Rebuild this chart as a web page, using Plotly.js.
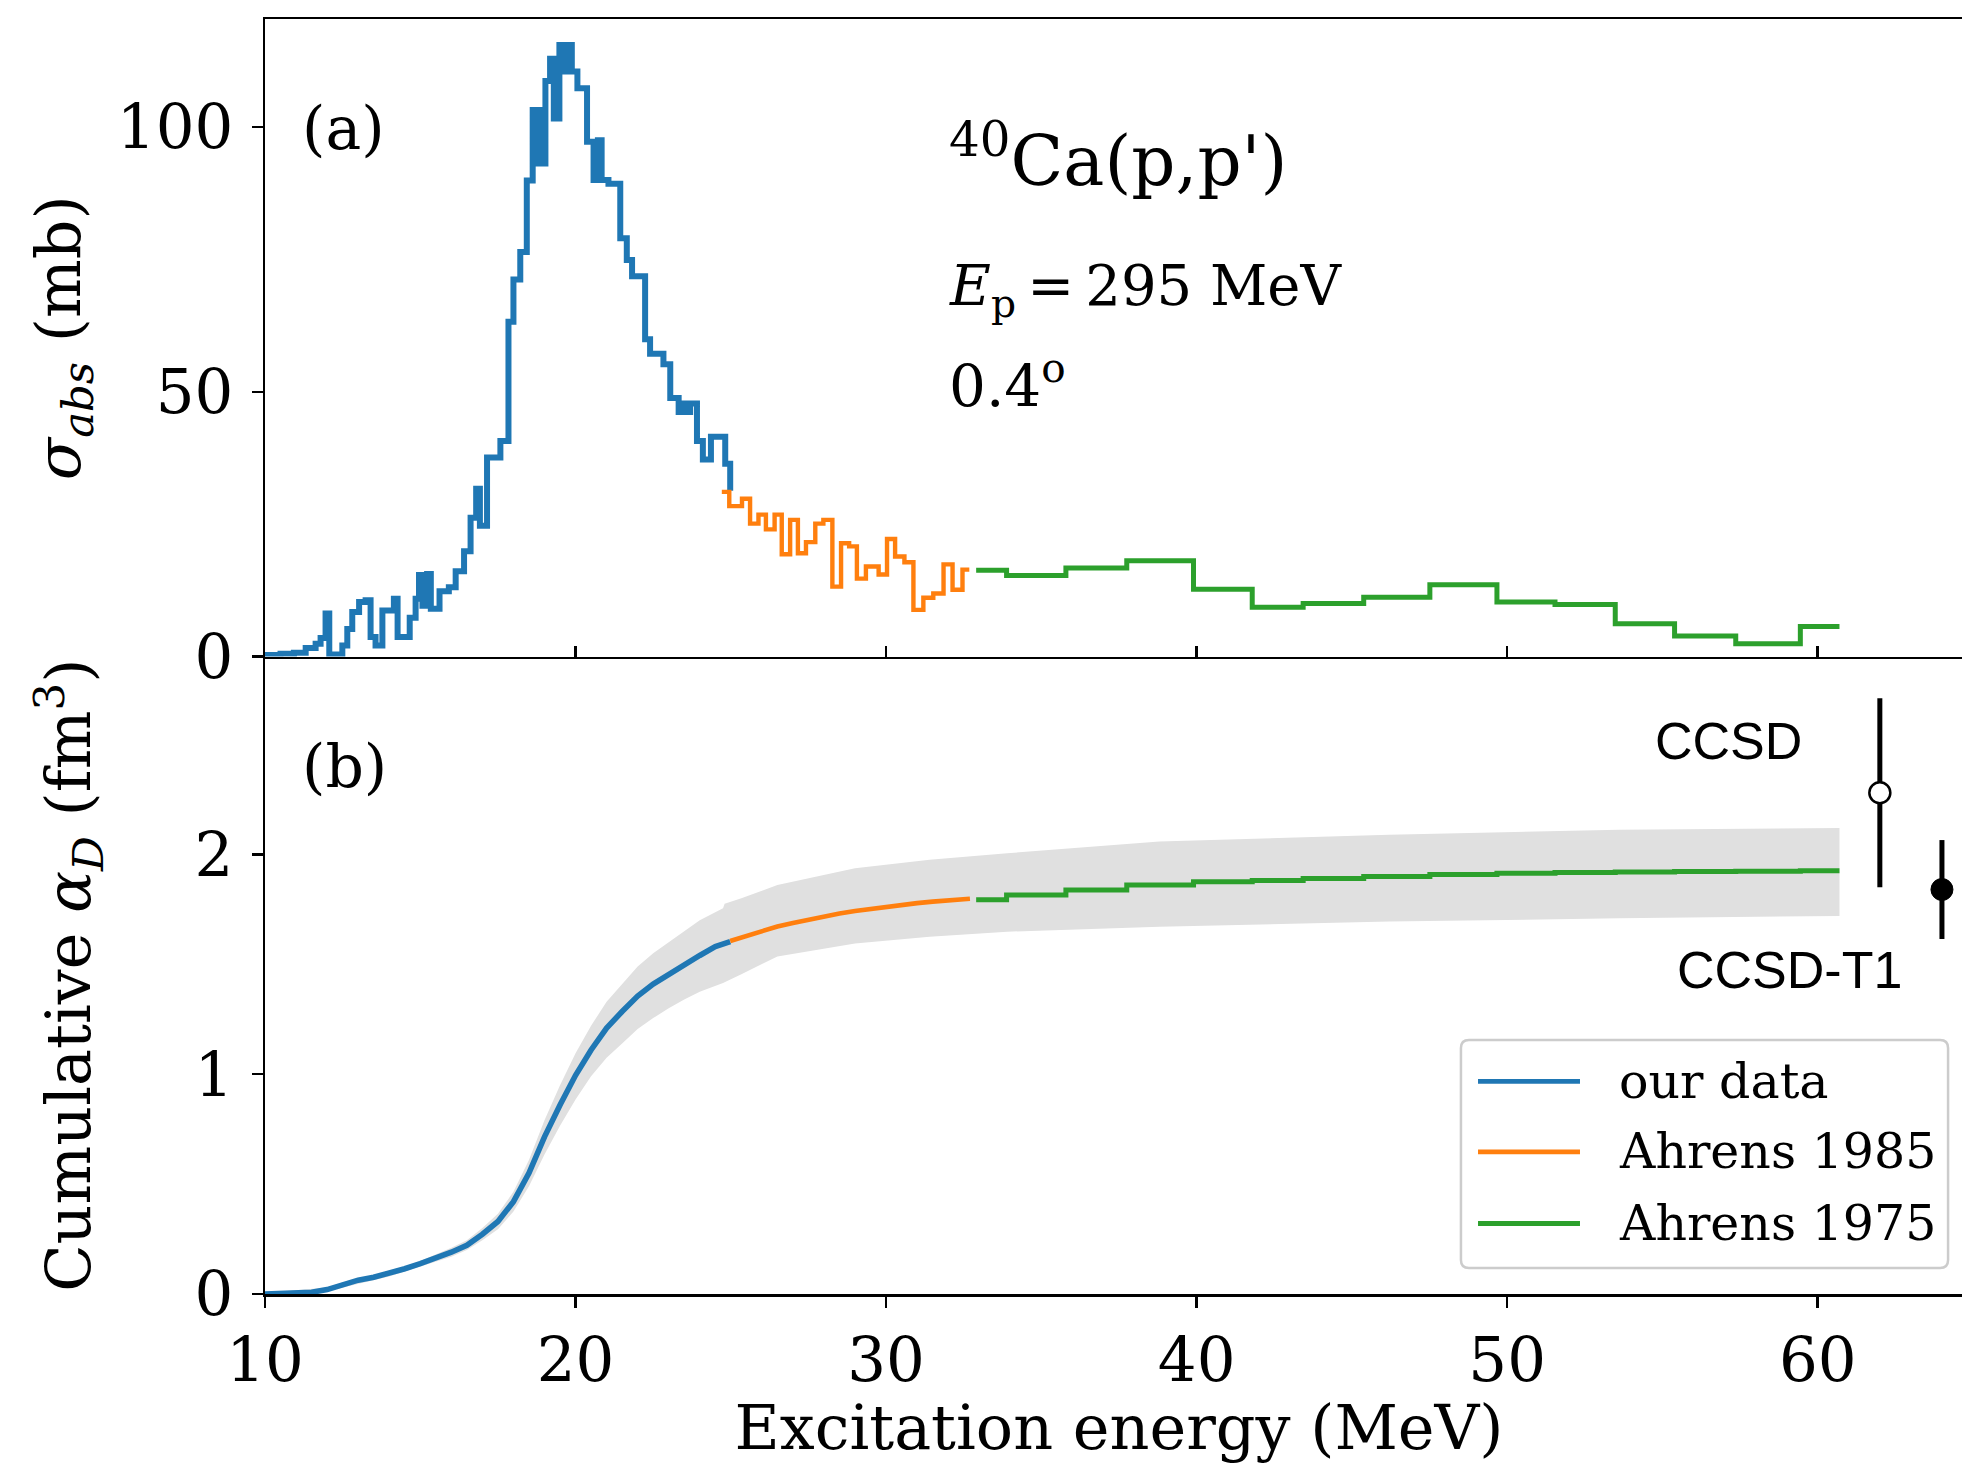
<!DOCTYPE html>
<html><head><meta charset="utf-8">
<script src="https://cdn.plot.ly/plotly-3.0.1.min.js"></script>
<style>html,body{margin:0;padding:0;overflow:hidden;background:#fff}</style>
</head><body><div id="chart" style="width:1980px;height:1464px"></div>
<script>
// ---- panel (a): absorption cross section (mb), step histograms: bin edges + bin values
const ourEdges = [10.00,10.50,10.93,11.31,11.63,11.79,11.95,12.07,12.49,12.65,12.81,13.03,13.24,13.40,13.56,13.78,14.15,14.27,14.66,14.85,14.96,15.07,15.22,15.34,15.62,15.92,16.14,16.41,16.62,16.80,16.92,17.15,17.58,17.84,18.00,18.22,18.43,18.62,18.74,18.86,18.96,19.03,19.18,19.30,19.48,19.62,19.72,19.88,20.06,20.37,20.58,20.72,20.84,21.06,21.44,21.65,21.82,22.24,22.40,22.83,23.05,23.32,23.45,23.55,23.69,23.91,24.10,24.36,24.82,24.98,24.99];
const ourSigma = [0.3,0.5,0.7,1.6,2.4,3.5,8.1,0.4,2.1,5.2,8.4,10.3,10.6,3.7,2.1,8.7,10.9,3.7,7.3,10.9,15.4,9.6,15.6,9.0,12.3,13.1,16.1,19.9,26.2,31.7,24.7,37.6,40.7,63.2,71.2,76.4,89.9,103.2,93.1,103.2,93.1,108.7,112.9,101.6,115.5,110.5,115.5,110.5,107.3,97.2,90.0,97.5,90.0,89.3,79.0,74.9,71.8,59.9,57.2,55.2,48.8,46.2,47.8,46.2,47.8,40.7,37.2,41.5,36.4,31.3];

const a85Edges = [24.71,24.95,25.36,25.62,25.89,26.13,26.41,26.64,26.91,27.16,27.42,27.72,27.98,28.27,28.55,28.81,29.06,29.35,29.76,30.03,30.29,30.59,30.88,31.20,31.52,31.85,32.14,32.46,32.68];
const a85Sigma = [31.1,28.4,29.8,25.1,26.8,24.0,26.8,19.3,25.8,19.5,21.6,25.1,25.8,13.2,21.4,20.8,14.7,17.0,15.5,22.2,18.9,17.8,8.8,11.1,11.9,17.4,12.6,16.4];

const a75Edges = [32.90,33.88,35.79,37.75,39.90,41.79,43.43,45.38,47.51,49.67,51.54,53.48,55.39,57.36,59.44,60.70];
const a75Sigma = [16.3,15.3,16.7,18.1,12.7,9.3,10.0,11.2,13.55,10.3,9.8,6.2,3.85,2.4,5.67];

// ---- panel (b): cumulative alpha_D (fm^3)
const ourCumE = [10,10.5,11,11.5,12,12.5,13,13.5,14,14.5,15,15.5,16,16.5,17,17.5,18,18.5,19,19.5,20,20.5,21,21.5,22,22.5,23,23.5,24,24.5,24.98];
const ourCum  = [0,0.001,0.003,0.008,0.02,0.04,0.063,0.076,0.093,0.115,0.138,0.163,0.19,0.222,0.272,0.33,0.42,0.55,0.715,0.86,0.995,1.11,1.21,1.285,1.355,1.41,1.455,1.50,1.54,1.58,1.603];

const a85CumE = [24.98,25.5,26,26.5,27,27.5,28,28.5,29,29.5,30,30.5,31,31.5,32,32.5,32.7];
const a85Cum  = [1.606,1.63,1.652,1.672,1.688,1.703,1.718,1.731,1.742,1.752,1.762,1.770,1.778,1.785,1.791,1.796,1.798];

const a75CumEdges = [32.90,33.88,35.79,37.75,39.90,41.79,43.43,45.38,47.51,49.67,51.54,53.48,55.39,57.36,59.44,60.70];
const a75Cum = [1.793,1.815,1.838,1.860,1.875,1.881,1.890,1.899,1.908,1.914,1.917,1.920,1.922,1.923,1.925];

// uncertainty band
const bandE     = [10,12,14,15,16,16.5,17,17.5,18,18.5,19,19.5,20,20.5,21,21.5,22,22.5,23,23.5,24,24.75,24.8,25.34,26.5,29,31.4,33.9,38.8,46.2,53.6,60.7];
const bandUpper = [0.005,0.03,0.10,0.15,0.21,0.245,0.30,0.365,0.465,0.61,0.79,0.95,1.095,1.22,1.33,1.41,1.49,1.55,1.60,1.65,1.70,1.755,1.775,1.80,1.86,1.937,1.975,2.005,2.058,2.089,2.112,2.12];
const bandLower = [0.0,0.012,0.08,0.125,0.17,0.20,0.245,0.295,0.375,0.49,0.635,0.765,0.885,0.99,1.075,1.14,1.205,1.255,1.30,1.34,1.375,1.415,1.418,1.455,1.535,1.595,1.625,1.648,1.671,1.694,1.709,1.72];

// theory points
const theoryNames = ['CCSD','CCSD-T1'];
const theoryE     = [62.0, 64.0];
const theoryAlpha = [2.28, 1.84];
const theoryErr   = [0.43, 0.225];

// legend entries
const legendNames  = ['our data','Ahrens 1985','Ahrens 1975'];

const BLUE='#1f77b4', ORANGE='#ff7f0e', GREEN='#2ca02c';
const legendColors = [BLUE, ORANGE, GREEN];
const SERIF='DejaVu Serif';
const withLast = v => v.concat([v[v.length-1]]);

const traces = [
  {x:bandE, y:bandLower, xaxis:'x', yaxis:'y', mode:'lines', line:{width:0,color:'rgba(0,0,0,0)'}, showlegend:false, hoverinfo:'skip'},
  {x:bandE, y:bandUpper, xaxis:'x', yaxis:'y', mode:'lines', line:{width:0,color:'rgba(0,0,0,0)'}, fill:'tonexty', fillcolor:'rgb(224,224,224)', showlegend:false, hoverinfo:'skip'},
  {x:ourCumE, y:ourCum, xaxis:'x', yaxis:'y', mode:'lines', line:{color:BLUE,width:5.6}, showlegend:false},
  {x:a85CumE, y:a85Cum, xaxis:'x', yaxis:'y', mode:'lines', line:{color:ORANGE,width:4.6}, showlegend:false},
  {x:a75CumEdges, y:withLast(a75Cum), xaxis:'x', yaxis:'y', mode:'lines', line:{color:GREEN,width:5,shape:'hv'}, showlegend:false},
  {x:ourEdges, y:withLast(ourSigma), xaxis:'x2', yaxis:'y2', mode:'lines', name:legendNames[0], showlegend:false, line:{color:BLUE,width:6,shape:'hv'}},
  {x:a85Edges, y:withLast(a85Sigma), xaxis:'x2', yaxis:'y2', mode:'lines', name:legendNames[1], showlegend:false, line:{color:ORANGE,width:4.4,shape:'hv'}},
  {x:a75Edges, y:withLast(a75Sigma), xaxis:'x2', yaxis:'y2', mode:'lines', name:legendNames[2], showlegend:false, line:{color:GREEN,width:5,shape:'hv'}},
  {x:[theoryE[0]], y:[theoryAlpha[0]], name:theoryNames[0], xaxis:'x', yaxis:'y', mode:'markers', showlegend:false,
   marker:{symbol:'circle', size:21, color:'white', line:{color:'black',width:2.5}},
   error_y:{type:'data', array:[theoryErr[0]], visible:true, thickness:5, width:0, color:'black'}},
  {x:[theoryE[1]], y:[theoryAlpha[1]], name:theoryNames[1], xaxis:'x', yaxis:'y', mode:'markers', showlegend:false,
   marker:{symbol:'circle', size:22, color:'black', line:{color:'black',width:1}},
   error_y:{type:'data', array:[theoryErr[1]], visible:true, thickness:5, width:0, color:'black'}}
];

const tickFont = {family:SERIF, size:61, color:'black'};
const baseAxis = {showgrid:false, zeroline:false, showline:true, linecolor:'black', linewidth:2.5,
  ticks:'outside', ticklen:11, tickwidth:2.5, tickcolor:'black', tickfont:tickFont};

// custom legend box (paper coordinates)
const LX0=0.7002, LX1=0.9854, LY0=0.0204, LY1=0.1992, RX=0.0047, RY=0.0063;
const boxPath = `M${LX0+RX},${LY0} L${LX1-RX},${LY0} Q${LX1},${LY0} ${LX1},${LY0+RY} L${LX1},${LY1-RY} Q${LX1},${LY1} ${LX1-RX},${LY1} L${LX0+RX},${LY1} Q${LX0},${LY1} ${LX0},${LY1-RY} L${LX0},${LY0+RY} Q${LX0},${LY0} ${LX0+RX},${LY0} Z`;
const rowY = [0.1667, 0.1114, 0.0553];
const shapes = [{type:'path', xref:'paper', yref:'paper', path:boxPath, fillcolor:'rgba(255,255,255,0.8)', line:{color:'#cccccc', width:2.5}, layer:'above'}];
const legendAnn = [];
legendNames.forEach((n,i)=>{
  shapes.push({type:'line', xref:'paper', yref:'paper', x0:0.7102, x1:0.7699, y0:rowY[i], y1:rowY[i], line:{color:legendColors[i], width:4.8}, layer:'above'});
  legendAnn.push({text:n, xref:'paper', yref:'paper', x:0.7916, y:rowY[i], xanchor:'left', yanchor:'middle', showarrow:false, font:{family:SERIF,size:49,color:'black'}});
});

const layout = {
  width:1980, height:1464,
  margin:{l:265, r:7, t:19, b:170},
  paper_bgcolor:'white', plot_bgcolor:'rgba(0,0,0,0)',
  font:{family:SERIF, color:'black'},
  showlegend:false,
  xaxis: Object.assign({}, baseAxis, {domain:[0,1], anchor:'y', range:[10,65], tickvals:[10,20,30,40,50,60],
    ticklabelstandoff:0,
    title:{text:'Excitation energy (MeV)', font:{family:SERIF,size:62}, standoff:22}}),
  yaxis: Object.assign({}, baseAxis, {domain:[0,0.5], anchor:'x', range:[0,2.9], tickvals:[0,1,2],
    ticklabelstandoff:6,
    title:{text:'Cumulative <i>α</i><sub><i>D</i></sub> (fm<sup>3</sup>)', font:{family:SERIF,size:62}, standoff:84}}),
  xaxis2: Object.assign({}, baseAxis, {domain:[0,1], anchor:'y2', matches:'x', range:[10,65], tickvals:[10,20,30,40,50,60],
    showticklabels:false, ticks:'inside', mirror:true}),
  yaxis2: Object.assign({}, baseAxis, {domain:[0.5,1], anchor:'x2', range:[0,120.4], tickvals:[0,50,100],
    ticklabelstandoff:6, mirror:true,
    title:{text:'<i>σ</i><sub><i>abs</i></sub> (mb)', font:{family:SERIF,size:62}, standoff:16}}),
  shapes: shapes,
  annotations:[
    {text:'(a)', xref:'paper', yref:'paper', x:0.0205, y:0.9145, xanchor:'left', yanchor:'middle', showarrow:false, font:{family:SERIF,size:60}},
    {text:'(b)', xref:'paper', yref:'paper', x:0.0205, y:0.414, xanchor:'left', yanchor:'middle', showarrow:false, font:{family:SERIF,size:60}},
    {text:'<sup>40</sup>Ca(p,p\')', xref:'paper', yref:'paper', x:0.3995, y:0.8925, xanchor:'left', yanchor:'middle', showarrow:false, font:{family:SERIF,size:69}},
    {text:'<i>E</i><sub>p</sub>\u2009=\u2009295 MeV', xref:'paper', yref:'paper', x:0.3995, y:0.7875, xanchor:'left', yanchor:'middle', showarrow:false, font:{family:SERIF,size:56}},
    {text:'0.4<sup>o</sup>', xref:'paper', yref:'paper', x:0.3995, y:0.7153, xanchor:'left', yanchor:'middle', showarrow:false, font:{family:SERIF,size:58}},
    {text:theoryNames[0], xref:'paper', yref:'paper', x:0.8566, y:0.4337, xanchor:'center', yanchor:'middle', showarrow:false, font:{family:'Liberation Sans',size:52}},
    {text:theoryNames[1], xref:'paper', yref:'paper', x:0.8923, y:0.2541, xanchor:'center', yanchor:'middle', showarrow:false, font:{family:'Liberation Sans',size:52}}
  ].concat(legendAnn)
};

Plotly.newPlot('chart', traces, layout, {staticPlot:true, displayModeBar:false});
</script></body></html>
